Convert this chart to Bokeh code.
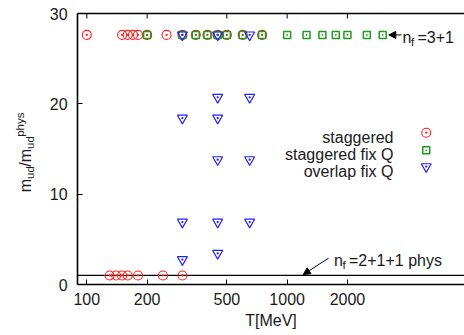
import math
from bokeh.plotting import figure
from bokeh.models import (Range1d, FixedTicker, BasicTickFormatter, Label,
                          Arrow, NormalHead)
from bokeh.embed import file_html
from bokeh.resources import INLINE

# ---------------- data ----------------
ratio_nf31 = 27.63          # m_s / m_ud  (n_f = 3+1 line)
phys_ratio = 1.0            # physical point

stag_T_top = [100, 150, 160, 170, 180, 200, 250, 300, 350, 400, 450, 500, 600, 750]
stag_T_bot = [130, 140, 150, 160, 180, 240, 300]

fixq_T = [200, 300, 350, 400, 450, 500, 600, 750, 1000, 1250, 1500, 1750, 2000, 2500, 3000]

ov_T = [300, 300, 300, 300,
        450, 450, 450, 450, 450, 450,
        650, 650, 650, 650]
ov_y = [27.63, 18.42, 6.91, 2.76,
        27.63, 20.72, 18.42, 13.82, 6.91, 3.45,
        27.63, 20.72, 13.82, 6.91]

x_ticks = [100, 200, 500, 1000, 2000]
y_ticks = [0, 10, 20, 30]
x_axis_min, y_axis_min, y_axis_max = 90, 0, 30

legend_labels = ["staggered", "staggered fix Q", "overlap fix Q"]
legend_key_T = 4950
legend_key_y = [16.8, 14.85, 13.05]

FONT = "Liberation Sans"
FS = "16px"
SUB = "11.5px"
TXT = "#1a1a1a"

W, H = 464, 335
# pixel layout of the data area (frame covers the whole canvas; axes are placed inside)
PX_DEC = 200.3      # pixels per decade
PX_100 = 86.33      # pixel of T=100
PX_Y0, PX_Y30 = 284.0, 13.0
x_start = 10 ** (2 - PX_100 / PX_DEC)
x_end = 10 ** (2 + (W - PX_100) / PX_DEC)
py = (PX_Y0 - PX_Y30) / 30.0
y_start = -(H - PX_Y0) / py
y_end = 30 + PX_Y30 / py

# ---------------- figure ----------------
p = figure(width=W, height=H, x_axis_type="log",
           x_range=Range1d(x_start, x_end), y_range=Range1d(y_start, y_end),
           output_backend="svg", toolbar_location=None,
           min_border_left=0, min_border_right=0,
           min_border_top=0, min_border_bottom=0)
p.xgrid.visible = False
p.ygrid.visible = False
p.outline_line_color = None
p.background_fill_color = "white"
p.border_fill_color = "white"

for ax in (p.xaxis[0], p.yaxis[0]):
    ax.major_tick_in = 5
    ax.major_tick_out = 0
    ax.minor_tick_in = 0
    ax.minor_tick_out = 0
    ax.axis_line_width = 1.6
    ax.axis_line_color = "black"
    ax.major_tick_line_color = "black"
    ax.major_tick_line_width = 1
    ax.major_label_text_font = FONT
    ax.major_label_text_font_size = FS
    ax.major_label_text_color = TXT

p.xaxis.fixed_location = y_axis_min
p.xaxis.bounds = (x_axis_min, x_end)
p.xaxis.ticker = FixedTicker(ticks=x_ticks, minor_ticks=[])
p.xaxis.formatter = BasicTickFormatter()
p.xaxis.major_label_standoff = 8
p.xaxis.axis_label = "T[MeV]"
p.xaxis.axis_label_text_font = FONT
p.xaxis.axis_label_text_font_size = FS
p.xaxis.axis_label_text_font_style = "normal"
p.xaxis.axis_label_text_color = TXT
p.xaxis.axis_label_standoff = 4

p.yaxis.fixed_location = x_axis_min
p.yaxis.bounds = (y_axis_min, y_axis_max)
p.yaxis.ticker = FixedTicker(ticks=y_ticks, minor_ticks=[])
p.yaxis.major_label_standoff = 10

# top border with mirrored ticks
p.segment(x0=[x_axis_min], y0=[y_axis_max], x1=[x_end], y1=[y_axis_max],
          line_color="black", line_width=1.6)
p.segment(x0=x_ticks, y0=[y_axis_max] * len(x_ticks), x1=x_ticks,
          y1=[y_axis_max - 5 / py] * len(x_ticks), line_color="black", line_width=1)

# physical line
p.segment(x0=[x_axis_min], y0=[phys_ratio], x1=[x_end], y1=[phys_ratio],
          line_color="black", line_width=1.2)

# ---------------- data points ----------------
stag_T = stag_T_top + stag_T_bot
stag_y = [ratio_nf31] * len(stag_T_top) + [phys_ratio] * len(stag_T_bot)
p.scatter(stag_T, stag_y, marker="circle_dot", size=9, line_color="#ff2020",
          fill_color=None, line_width=1.1)
p.scatter(fixq_T, [ratio_nf31] * len(fixq_T), marker="square_dot", size=7,
          line_color="#1f9a1f", fill_color=None, line_width=1.5)
p.scatter(ov_T, ov_y, marker="inverted_triangle", size=10, line_color="#2020ff",
          fill_color=None, line_width=1.2)
p.scatter(ov_T, ov_y, marker="dot", size=9, line_color="#2020ff")

# ---------------- legend ----------------
p.scatter([legend_key_T], [legend_key_y[0]], marker="circle_dot", size=9,
          line_color="#ff2020", fill_color=None, line_width=1.1)
p.scatter([legend_key_T], [legend_key_y[1]], marker="square_dot", size=7,
          line_color="#1f9a1f", fill_color=None, line_width=1.5)
p.scatter([legend_key_T], [legend_key_y[2]], marker="inverted_triangle", size=10,
          line_color="#2020ff", fill_color=None, line_width=1.2)
p.scatter([legend_key_T], [legend_key_y[2]], marker="dot", size=9, line_color="#2020ff")

for lab, yb in zip(legend_labels, [197.8, 180.8, 163.8]):
    p.add_layout(Label(x=393, y=yb, x_units="screen", y_units="screen", text=lab,
                       text_align="right", text_baseline="alphabetic",
                       text_font=FONT, text_font_size=FS, text_color=TXT))

# ---------------- annotations ----------------
def txt(x, y, s, size=FS, angle=0.0):
    p.add_layout(Label(x=x, y=y, x_units="screen", y_units="screen", text=s,
                       angle=angle, text_align="left", text_baseline="alphabetic",
                       text_font=FONT, text_font_size=size, text_color=TXT))

def arrow(x0, y0, x1, y1):
    p.add_layout(Arrow(x_start=x0, y_start=y0, x_end=x1, y_end=y1,
                       start_units="screen", end_units="screen",
                       line_color="black", line_width=1,
                       end=NormalHead(size=7, fill_color="black", line_color="black",
                                      line_width=1)))

# n_f=3+1
txt(402, 297.6, "n")
txt(410.5, 293.6, "f", SUB)
txt(417, 297.6, "=3+1")
arrow(401, 300.6, 388.3, 300.6)

# n_f=2+1+1 phys
txt(333.5, 74.6, "n")
txt(342, 70.6, "f", SUB)
txt(348.5, 74.6, "=2+1+1 phys")
arrow(328, 77.3, 302.7, 61)

# y-axis label m_ud/m_ud^phys (rotated)
A = math.pi / 2
txt(25, 143.3, "m", FS, A)
txt(29, 156.6, "ud", SUB, A)
txt(25, 168.8, "/m", FS, A)
txt(29, 186.5, "ud", SUB, A)
txt(19.5, 198.7, "phys", SUB, A)

open("out.html", "w").write(file_html(p, INLINE))
